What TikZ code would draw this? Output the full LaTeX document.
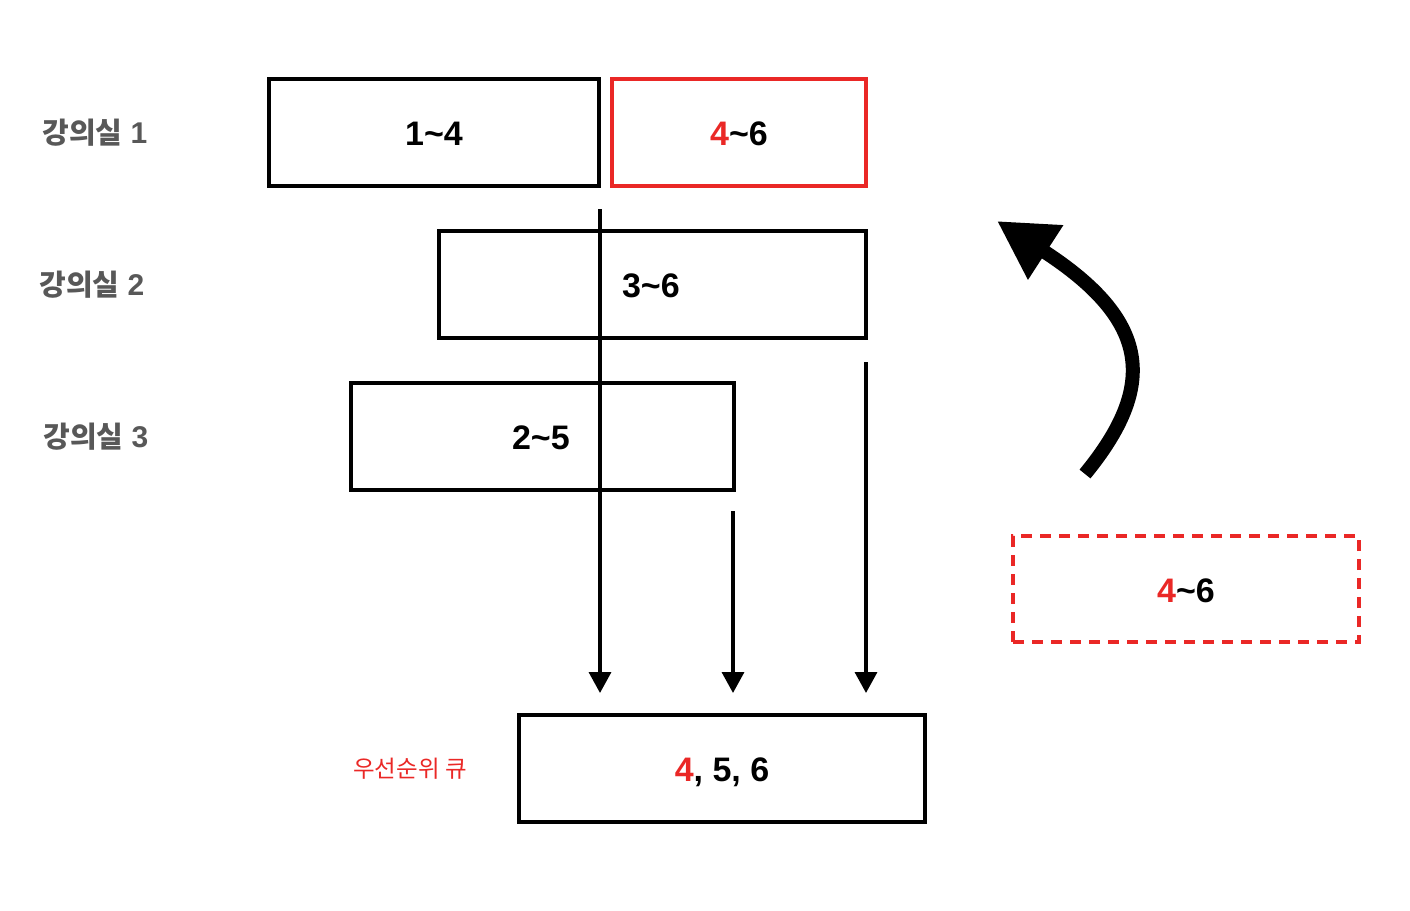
\documentclass[tikz,border=0pt]{standalone}
\usepackage{fontspec}
\setmainfont{Liberation Sans}
\newfontfamily\kr{Noto Sans CJK KR}
\usetikzlibrary{arrows.meta}
\definecolor{kred}{RGB}{234,40,38}
\definecolor{kgray}{RGB}{88,88,88}
\newcommand{\roomtxt}[1]{{\kr\bfseries 강의실} {\fontsize{30}{30}\selectfont\bfseries #1}}
\begin{document}
\begin{tikzpicture}[x=1pt,y=-1pt,
  box/.style={draw=black, line width=4.5pt, rectangle, inner sep=0pt,
    text height=30pt, text depth=4pt,
    font=\fontsize{34}{34}\selectfont\bfseries},
  redbox/.style={box, draw=kred},
  dashbox/.style={box, draw=kred, line width=4pt, dash pattern=on 11pt off 8pt},
  room/.style={font=\fontsize{29}{29}\selectfont\bfseries, text=kgray},
  flow/.style={line width=3.5pt, -{Triangle[length=21pt,width=22pt]}},
  bigarrow/.style={line width=14pt, -{Triangle[length=58pt,width=61pt]}}
]
\useasboundingbox (0,0) rectangle (1410,910);

% room labels
\node[room] (r1) at (95,133) {\roomtxt{1}};
\node[room] (r2) at (92,285) {\roomtxt{2}};
\node[room] (r3) at (96,437) {\roomtxt{3}};

% boxes
\node[box, minimum width=330pt, minimum height=107pt] (b14) at (434,132.5) {1\textasciitilde4};
\node[redbox, minimum width=254pt, minimum height=107pt] (b46) at (739,132.5) {{\color{kred}4}\textasciitilde6};
\node[box, minimum width=427pt, minimum height=107pt, text width=427pt, align=left] (b36) at (652.5,284.5) {\hspace*{183pt}3\textasciitilde6};
\node[box, minimum width=383pt, minimum height=107pt, text width=383pt, align=left] (b25) at (542.5,436.5) {\hspace*{161pt}2\textasciitilde5};
\node[box, minimum width=406pt, minimum height=107pt] (pq) at (722,768.5) {{\color{kred}4}, 5, 6};
\node[dashbox, minimum width=346pt, minimum height=106pt] (d46) at (1186,589) {{\color{kred}4}\textasciitilde6};

% queue label
\node[font=\kr\fontsize{23.5}{23.5}\selectfont, text=kred] (pql) at (410,769) {우선순위 큐};

% flow arrows
\coordinate (s1) at (600,209);
\coordinate (e1) at (600,693);
\coordinate (s2) at (733,511);
\coordinate (e2) at (733,693);
\coordinate (s3) at (866,362);
\coordinate (e3) at (866,693);
\draw[flow] (s1) -- (e1);
\draw[flow] (s2) -- (e2);
\draw[flow] (s3) -- (e3);

% curved arrow
\coordinate (ct) at (1085,474);
\coordinate (ch) at (997,221);
\draw[bigarrow] (ct) .. controls (1158,385) and (1150,320) .. (ch);
\end{tikzpicture}
\end{document}
